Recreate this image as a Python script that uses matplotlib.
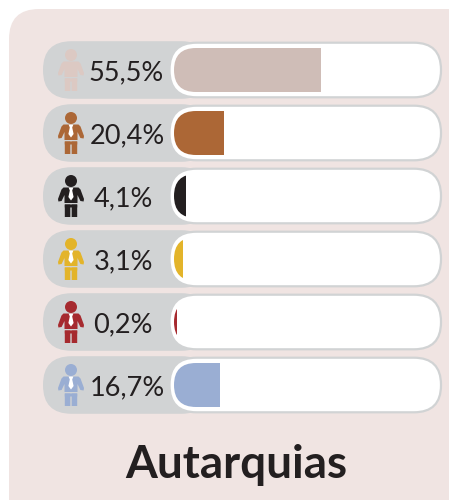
import matplotlib
matplotlib.use("Agg")
import matplotlib.pyplot as plt
from matplotlib.patches import FancyBboxPatch, Circle, Polygon, Rectangle

labels = ["55,5%", "20,4%", "4,1%", "3,1%", "0,2%", "16,7%"]
# drawn lengths of the bars, percent of track width
bar_lengths = [55.5, 18.9, 4.5, 3.4, 1.0, 17.4]
colors = ["#cfbdb7", "#ac6736", "#231f20", "#e3b42a", "#a62a2f", "#9aaed3"]
icon_colors = ["#dcc9c3", "#ac6736", "#231f20", "#e3b42a", "#a62a2f", "#9aaed3"]
has_tie = [False, True, True, True, True, True]
label_x = [126.5, 127.5, 123.5, 123.5, 122.5, 127.5]
title = "Autarquias"

W, H = 449, 500
plt.rcParams["font.family"] = ["Lato", "DejaVu Sans"]
fig = plt.figure(figsize=(W / 100, H / 100), dpi=100, facecolor="white")
ax = fig.add_axes([0, 0, 1, 1])
ax.set_xlim(0, W)
ax.set_ylim(H, 0)
ax.axis("off")

GRAY = "#d1d3d4"
TEXT = "#231f20"


def rbox(x0, y0, x1, y1, r, **kw):
    p = FancyBboxPatch((x0 + r, y0 + r), x1 - x0 - 2 * r, y1 - y0 - 2 * r,
                       boxstyle=f"round,pad={r},rounding_size={r}", **kw)
    ax.add_patch(p)
    return p


rbox(9, 9, 480, 530, 30, fc="#f0e4e2", ec="none", zorder=1)


def person(cx, cy, color, tie):
    ax.add_patch(Circle((cx, cy - 15), 6.0, fc=color, ec="none", zorder=5))
    body = [(cx - 7.5, cy - 8.5), (cx + 7.5, cy - 8.5), (cx + 9.5, cy - 6.5), (cx + 13, cy + 3),
            (cx + 12.6, cy + 5.5), (cx + 9.4, cy + 5), (cx + 6.5, cy - 1), (cx + 6.5, cy + 7),
            (cx - 6.5, cy + 7), (cx - 6.5, cy - 1), (cx - 9.4, cy + 5), (cx - 12.6, cy + 5.5),
            (cx - 13, cy + 3), (cx - 9.5, cy - 6.5)]
    ax.add_patch(Polygon(body, closed=True, fc=color, ec="none", zorder=5))
    for x0 in (cx - 6.2, cx + 0.7):
        ax.add_patch(Rectangle((x0, cy + 8.5), 5.5, 12.5, fc=color, ec="none", zorder=5, snap=False))
    ax.add_patch(Rectangle((cx - 6.2, cy + 8.5), 12.4, 3, fc=color, ec="none", zorder=5, snap=False))
    if tie:
        ax.add_patch(Polygon([(cx - 2.4, cy - 8.5), (cx + 2.4, cy - 8.5), (cx + 1.2, cy - 5.5),
                              (cx + 2.6, cy + 1), (cx, cy + 4.5), (cx - 2.6, cy + 1),
                              (cx - 1.2, cy - 5.5)],
                             closed=True, fc="white", ec="none", zorder=6))


ROW0, PITCH = 70, 63
axb = fig.add_axes([174 / W, 1 - (ROW0 - PITCH / 2 + 6 * PITCH) / H, 264 / W, 6 * PITCH / H])
axb.set_xlim(0, 100)
axb.set_ylim(5.5, -0.5)
axb.axis("off")
axb.patch.set_alpha(0)
axb.set_zorder(3)

for i, lab in enumerate(labels):
    yc = ROW0 + i * PITCH
    rbox(43, yc - 28.8, 210, yc + 28.8, 28.5, fc=GRAY, ec="none", zorder=2)
    rbox(169.5, yc - 27.3, 441, yc + 27.3, 27, fc="white", ec=GRAY, lw=1.6, zorder=2.5)
    clip = rbox(174, yc - 22, 437, yc + 22, 22, fc="none", ec="none", zorder=2.4)
    b = axb.barh(i, bar_lengths[i], height=44 / PITCH, left=0, color=colors[i], lw=0)
    b[0].set_clip_path(clip)
    person(71, yc, icon_colors[i], has_tie[i])
    ax.text(label_x[i], yc + 10.5, lab, fontsize=19.5, color=TEXT, ha="center", va="baseline", zorder=6)

ax.text(236, 478, title, fontsize=33, fontweight="bold", color=TEXT, ha="center", va="baseline", zorder=6)

fig.savefig("out.png", dpi=100)
